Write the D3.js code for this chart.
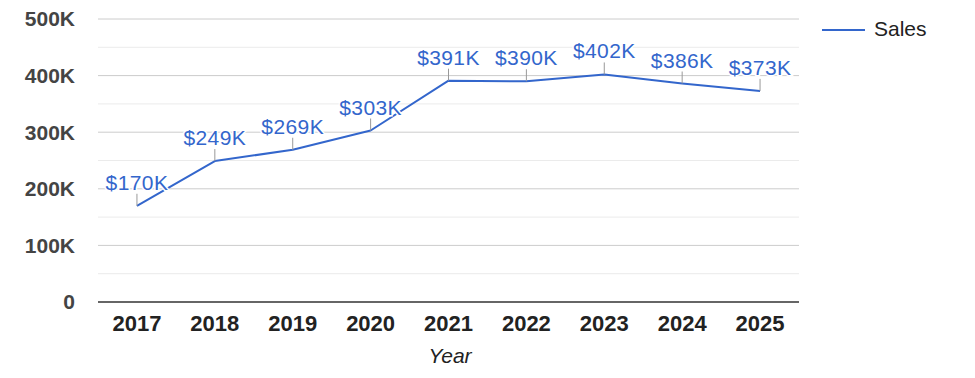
<!DOCTYPE html>
<html><head><meta charset="utf-8">
<script src="https://cdn.jsdelivr.net/npm/d3@7"></script>
<style>body{margin:0;background:#fff;}svg{display:block;font-family:Arial,"Liberation Sans",sans-serif;}</style>
</head><body><svg id="c" width="975" height="378"></svg>
<script>
const years = ["2017","2018","2019","2020","2021","2022","2023","2024","2025"];
const sales = [170000,249000,269000,303000,391000,390000,402000,386000,373000];
const yTicks = [0,100000,200000,300000,400000,500000];
const yMinor = [50000,150000,250000,350000,450000];
const seriesName = "Sales";
const xTitle = "Year";

const svg = d3.select("#c");
const m = {l:98, r:799, t:19, b:302};
const x = d3.scalePoint().domain(years).range([m.l, m.r]).padding(0.5);
const y = d3.scaleLinear().domain([0,500000]).range([m.b, m.t]);
const blue = "#3366cc";

// minor grid
svg.append("g").selectAll("line").data(yMinor).join("line")
  .attr("x1", m.l).attr("x2", m.r).attr("y1", d=>y(d)).attr("y2", d=>y(d))
  .attr("stroke", "#ebebeb").attr("stroke-width", 1);
// major grid
svg.append("g").selectAll("line").data(yTicks.filter(d=>d>0)).join("line")
  .attr("x1", m.l).attr("x2", m.r).attr("y1", d=>y(d)).attr("y2", d=>y(d))
  .attr("stroke", "#cccccc").attr("stroke-width", 1);

// y axis labels
const fmtY = d => d === 0 ? "0" : (d/1000) + "K";
svg.append("g").selectAll("text").data(yTicks).join("text")
  .attr("x", 75).attr("y", d=>y(d)).attr("dy", "0.35em")
  .attr("text-anchor", "end").attr("font-weight", "bold").attr("font-size", 21)
  .attr("fill", "#444").text(fmtY);

// baseline
svg.append("line").attr("x1", m.l).attr("x2", m.r).attr("y1", y(0)).attr("y2", y(0))
  .attr("stroke", "#333").attr("stroke-width", 1.5);

// x labels
svg.append("g").selectAll("text").data(years).join("text")
  .attr("x", d=>x(d)).attr("y", 331).attr("text-anchor", "middle")
  .attr("font-weight", "bold").attr("font-size", 22).attr("fill", "#222").text(d=>d);

svg.append("text").attr("x", 450).attr("y", 363).attr("text-anchor", "middle")
  .attr("font-style", "italic").attr("font-size", 21).attr("fill", "#222").text(xTitle);

// line
const line = d3.line().x((d,i)=>x(years[i])).y(d=>y(d));
svg.append("path").datum(sales).attr("d", line).attr("fill", "none")
  .attr("stroke", blue).attr("stroke-width", 2).attr("stroke-linejoin", "round");

// leader ticks
svg.append("g").selectAll("line").data(sales).join("line")
  .attr("x1", (d,i)=>x(years[i])).attr("x2", (d,i)=>x(years[i]))
  .attr("y1", d=>y(d)).attr("y2", d=>y(d)-12)
  .attr("stroke", "#999").attr("stroke-width", 1);

// data labels
const fmtL = d => "$" + Math.round(d/1000) + "K";
svg.append("g").selectAll("text").data(sales).join("text")
  .attr("x", (d,i)=>x(years[i])).attr("y", d=>y(d)-16)
  .attr("text-anchor", "middle").attr("font-size", 21).attr("letter-spacing", "0.4px")
  .attr("fill", blue)
  .attr("stroke", "#fff").attr("stroke-width", 3).attr("paint-order", "stroke")
  .text(fmtL);

// legend
svg.append("line").attr("x1", 822).attr("x2", 865).attr("y1", 30).attr("y2", 30)
  .attr("stroke", blue).attr("stroke-width", 2);
svg.append("text").attr("x", 874).attr("y", 29).attr("dy", "0.35em")
  .attr("font-size", 21).attr("fill", "#222").text(seriesName);
</script></body></html>
